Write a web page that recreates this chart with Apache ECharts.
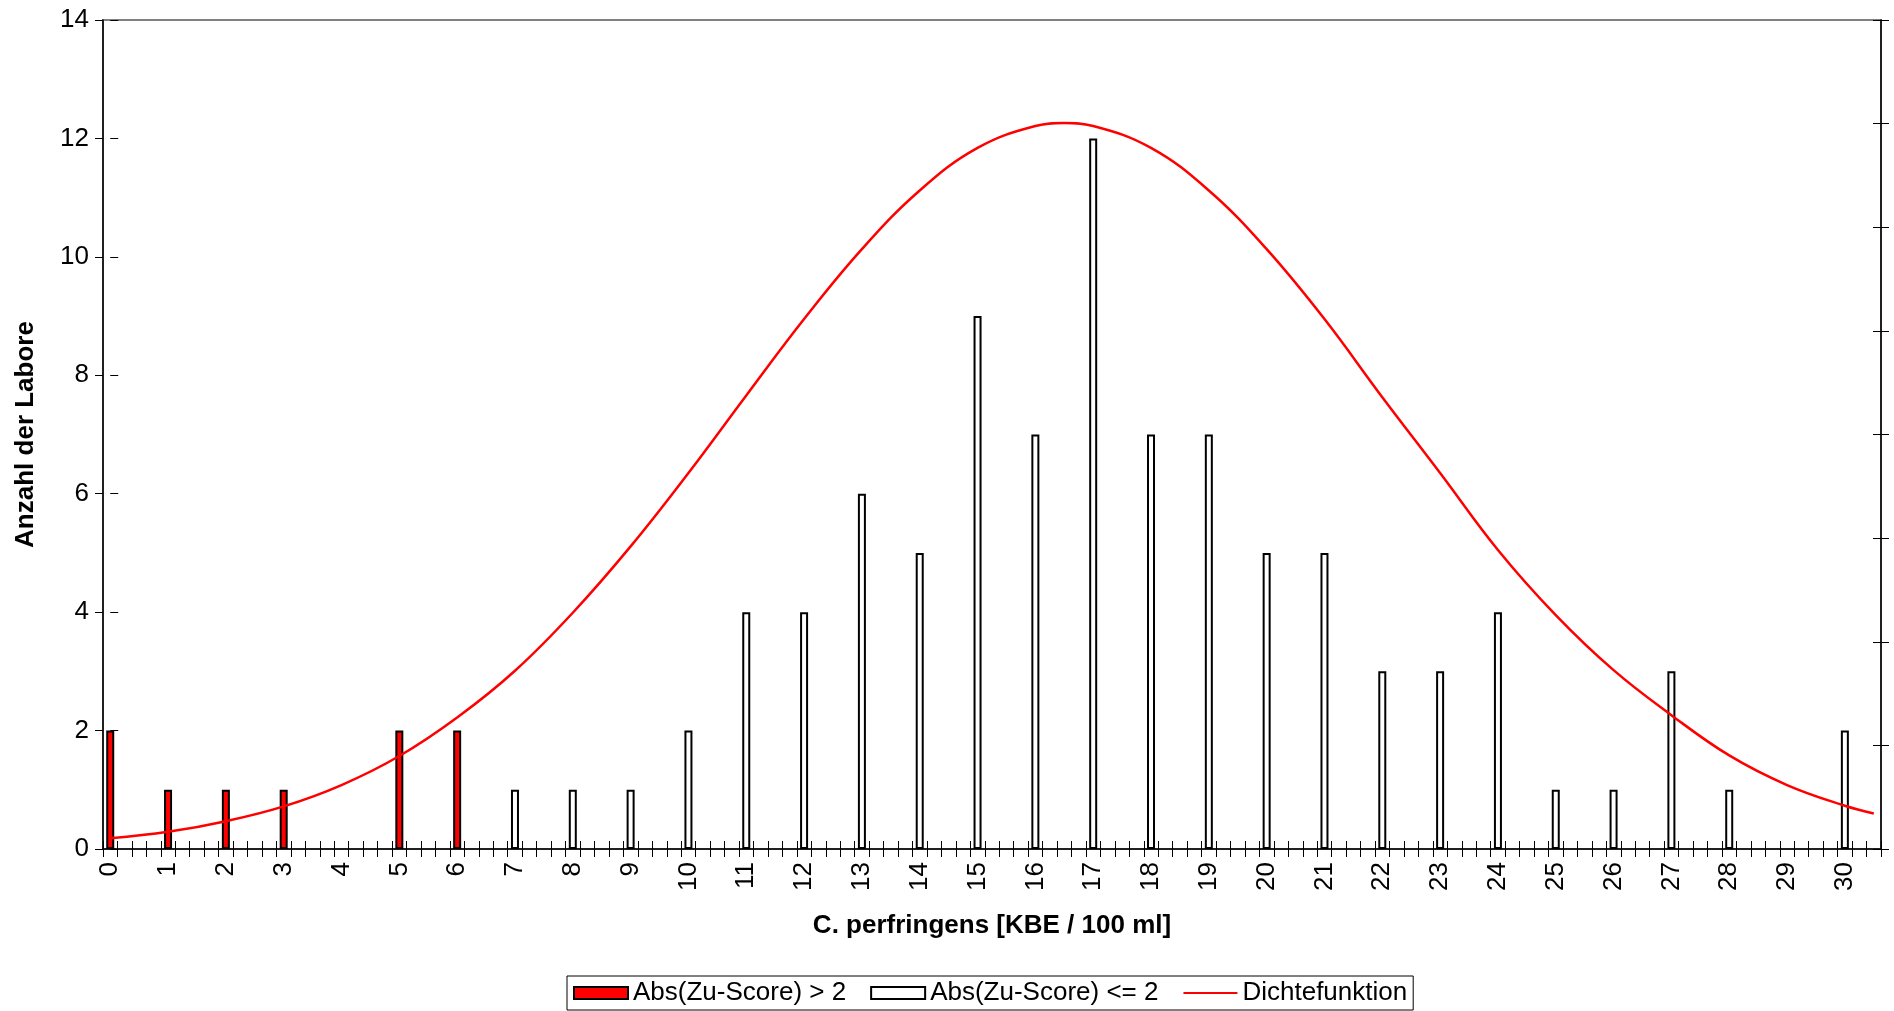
<!DOCTYPE html>
<html>
<head>
<meta charset="utf-8">
<script src="https://cdn.jsdelivr.net/npm/echarts@6/dist/echarts.min.js"></script>
<style>
  html, body { margin: 0; padding: 0; background: #fff; }
  #chart { width: 1894px; height: 1011px; }
</style>
</head>
<body>
<div id="chart"></div>
<script>
// ---- data ----
const binStep = 0.25;          // category width of the histogram axis
const xMaxCategory = 30.5;     // last category on the axis
const tickLabels = ['0','1','2','3','4','5','6','7','8','9','10','11','12','13','14','15',
                    '16','17','18','19','20','21','22','23','24','25','26','27','28','29','30'];

// |z| > 2 (red bars)
const redBins   = [0, 1, 2, 3, 5, 6];
const redCounts = [2, 1, 1, 1, 2, 2];

// |z| <= 2 (white bars)
const whiteBins   = [7, 8, 9, 10, 11, 12, 13, 14, 15, 16, 17, 18, 19, 20, 21, 22, 23, 24, 25, 26, 27, 28, 30];
const whiteCounts = [1, 1, 1, 2,  4,  4,  6,  5,  9,  7,  12, 7,  7,  5,  5,  3,  3,  4,  1,  1,  3,  1,  2];

// density curve (read in left-axis units)
const densityX = [0, 1, 2, 3, 4, 5, 6, 7, 8, 9, 10, 11, 12, 13, 14, 15, 16, 16.5, 17, 18, 19, 20, 21, 22, 23, 24, 25, 26, 27, 28, 29, 30, 30.5];
const densityY = [0.18, 0.29, 0.47, 0.72, 1.08, 1.57, 2.22, 3.01, 3.99, 5.11, 6.35, 7.66, 8.95, 10.13, 11.12, 11.84, 12.21, 12.26, 12.21, 11.84, 11.12, 10.13, 8.95, 7.63, 6.35, 5.05, 3.95, 3.02, 2.26, 1.58, 1.08, 0.73, 0.6];

// ---- build library structures ----
const categories = [];
const nCat = Math.round(xMaxCategory / binStep) + 1;
for (let i = 0; i < nCat; i++) categories.push(String(i * binStep));

function binSeries(bins, counts) {
  const arr = new Array(nCat).fill(null);
  bins.forEach((b, i) => { arr[Math.round(b / binStep)] = counts[i]; });
  return arr;
}
const redData = binSeries(redBins, redCounts);
const whiteData = binSeries(whiteBins, whiteCounts);
const densityData = densityX.map((x, i) => [x, densityY[i]]);

const FONT = "'Liberation Sans', Arial, Helvetica, sans-serif";
const gridRect = { left: 103, right: 13, top: 20, bottom: 162 };

const chart = echarts.init(document.getElementById('chart'), null, { renderer: 'canvas' });
chart.setOption({
  animation: false,
  backgroundColor: '#ffffff',
  textStyle: { fontFamily: FONT, color: '#000' },
  grid: [
    Object.assign({ show: true, borderColor: '#808080', borderWidth: 2, backgroundColor: 'transparent', containLabel: false }, gridRect),
    Object.assign({ show: false, containLabel: false }, gridRect)
  ],
  legend: {
    left: 567, top: 976,
    orient: 'horizontal',
    itemWidth: 54, itemHeight: 12, itemGap: 24,
    padding: [4, 6, 4, 6],
    borderColor: '#000', borderWidth: 1,
    textStyle: { fontFamily: FONT, fontSize: 26, color: '#000' },
    data: [
      { name: 'Abs(Zu-Score) > 2', icon: 'rect' },
      { name: 'Abs(Zu-Score) <= 2', icon: 'rect' },
      { name: 'Dichtefunktion', itemStyle: { color: 'rgba(0,0,0,0)', borderWidth: 0, opacity: 0 } }
    ]
  },
  xAxis: [
    {
      type: 'category', gridIndex: 0, position: 'bottom',
      data: categories, boundaryGap: true,
      name: 'C. perfringens [KBE / 100 ml]', nameLocation: 'middle', nameGap: 64,
      nameTextStyle: { fontFamily: FONT, fontSize: 26, fontWeight: 'bold', color: '#000' },
      axisLine: { show: true, lineStyle: { color: '#000', width: 1.5 } },
      axisTick: { show: true, inside: false, length: 8, interval: 0, alignWithLabel: false, lineStyle: { color: '#000', width: 1 } },
      axisLabel: {
        show: true, rotate: 90, margin: 13, fontSize: 26, fontFamily: FONT, color: '#000',
        interval: (idx) => idx % 4 === 0,
        formatter: (v, idx) => tickLabels[idx / 4]
      },
      splitLine: { show: false }
    },
    {
      type: 'category', gridIndex: 1, position: 'bottom',
      data: categories, boundaryGap: true,
      axisLine: { show: false },
      axisTick: { show: true, inside: true, length: 8, interval: 0, lineStyle: { color: '#000', width: 1 } },
      axisLabel: { show: false },
      splitLine: { show: false }
    },
    {
      type: 'value', gridIndex: 1, position: 'top', show: false,
      min: -binStep / 2, max: xMaxCategory + binStep / 2,
      splitLine: { show: false }
    }
  ],
  yAxis: [
    {
      type: 'value', gridIndex: 0, position: 'left',
      min: 0, max: 14, interval: 2,
      name: 'Anzahl der Labore', nameLocation: 'middle', nameGap: 64,
      nameTextStyle: { fontFamily: FONT, fontSize: 26, fontWeight: 'bold', color: '#000' },
      axisLine: { show: true, lineStyle: { color: '#000', width: 1.5 } },
      axisTick: { show: true, inside: false, length: 8, lineStyle: { color: '#000', width: 1 } },
      axisLabel: { show: true, margin: 14, fontSize: 26, fontFamily: FONT, color: '#000' },
      splitLine: { show: false }
    },
    {
      type: 'value', gridIndex: 1, position: 'left',
      min: 0, max: 14, interval: 2,
      axisLine: { show: false },
      axisTick: { show: true, inside: true, length: 8, lineStyle: { color: '#000', width: 1 } },
      axisLabel: { show: false },
      splitLine: { show: false }
    },
    {
      type: 'value', gridIndex: 1, position: 'right',
      min: 0, max: 8, interval: 1,
      axisLine: { show: false },
      axisTick: { show: true, inside: true, length: 8, lineStyle: { color: '#000', width: 1 } },
      axisLabel: { show: false },
      splitLine: { show: false }
    },
    {
      type: 'value', gridIndex: 0, position: 'right',
      min: 0, max: 8, interval: 1,
      axisLine: { show: true, lineStyle: { color: '#000', width: 1.5 } },
      axisTick: { show: true, inside: false, length: 8, lineStyle: { color: '#000', width: 1 } },
      axisLabel: { show: false },
      splitLine: { show: false }
    }
  ],
  series: [
    {
      name: 'Abs(Zu-Score) > 2', type: 'bar', xAxisIndex: 0, yAxisIndex: 0,
      data: redData, barWidth: 8, barGap: '-100%',
      itemStyle: { color: '#ff0000', borderColor: '#000', borderWidth: 2 }
    },
    {
      name: 'Abs(Zu-Score) <= 2', type: 'bar', xAxisIndex: 0, yAxisIndex: 0,
      data: whiteData, barWidth: 8, barGap: '-100%',
      itemStyle: { color: '#ffffff', borderColor: '#000', borderWidth: 2 }
    },
    {
      name: 'Dichtefunktion', type: 'line', xAxisIndex: 2, yAxisIndex: 1,
      data: densityData, smooth: 0.4, symbol: 'none', showSymbol: false,
      lineStyle: { color: '#ff0000', width: 2.5 },
      itemStyle: { color: '#ff0000' },
      z: 5
    }
  ]
});
</script>
</body>
</html>
